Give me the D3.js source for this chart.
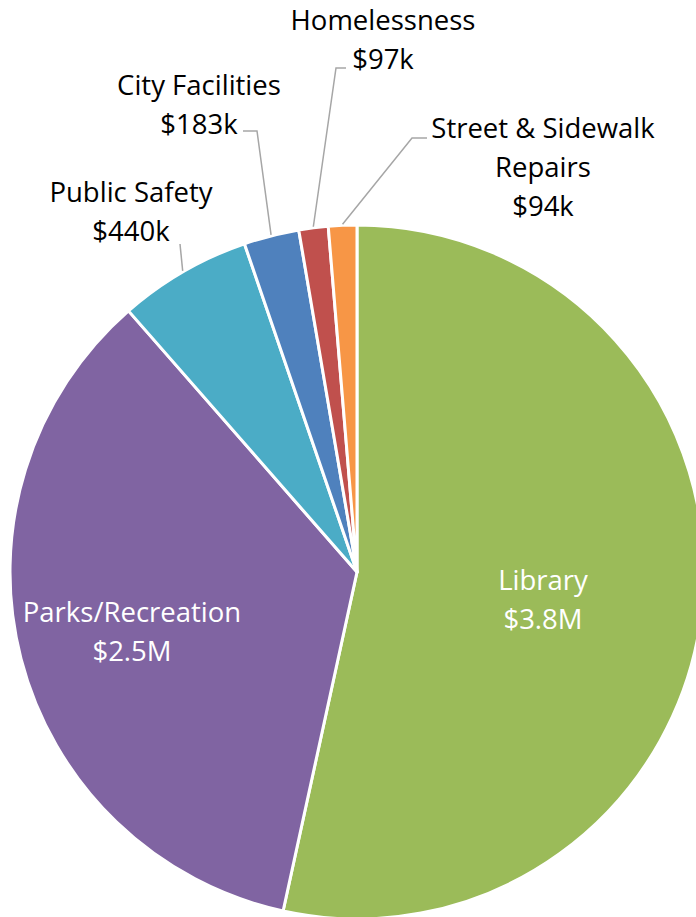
<!DOCTYPE html>
<html><head><meta charset="utf-8">
<script src="https://cdn.jsdelivr.net/npm/d3@7"></script>
<style>html,body{margin:0;padding:0;background:#fff;overflow:hidden}</style>
</head><body><svg id="c" width="696" height="917"></svg>
<script>
const categories = ["Library","Parks/Recreation","Public Safety","City Facilities","Homelessness","Street & Sidewalk Repairs"];
const values = [3800, 2500, 440, 183, 97, 94]; // $k
const valueLabels = ["$3.8M","$2.5M","$440k","$183k","$97k","$94k"];
const colors = ["#9BBB59","#8064A2","#4BACC6","#4F81BD","#C0504D","#F79646"];

// label layout (center x, first baseline y, lines) and leader elbow points
const labelLayout = [
  {x:543, y:590, lines:["Library"], inside:true},
  {x:132, y:622, lines:["Parks/Recreation"], inside:true},
  {x:131, y:202, lines:["Public Safety"], leader:[[180,244]]},
  {x:199, y:95,  lines:["City Facilities"], leader:[[243,131],[257,131]]},
  {x:383, y:30,  lines:["Homelessness"], leader:[[346,68],[336,68]]},
  {x:543, y:138, lines:["Street & Sidewalk","Repairs"], leader:[[427,138],[412,138]]}
];

const svg = d3.select("#c");
const cx = 357, cy = 572, R = 347;
const g = svg.append("g").attr("transform",`translate(${cx},${cy})`);
const pie = d3.pie().sort(null).value(d=>d.v);
const data = values.map((v,i)=>({v,i}));
const arcs = pie(data);
const arc = d3.arc().innerRadius(0).outerRadius(R);

g.selectAll("path.s").data(arcs).join("path")
  .attr("d",arc).attr("fill",d=>colors[d.data.i])
  .attr("stroke","#fff").attr("stroke-width",3).attr("stroke-linejoin","round");

const font = "'Open Sans', Lato, sans-serif";
const fs = 27.5, lh = 39;

labelLayout.forEach((L,i)=>{
  const a = arcs[i];
  if (L.leader) {
    const mid = (a.startAngle+a.endAngle)/2;
    const px = cx + Math.sin(mid)*(R+1), py = cy - Math.cos(mid)*(R+1);
    svg.append("path").attr("d", d3.line()(L.leader.concat([[px,py]])))
      .attr("fill","none").attr("stroke","#A6A6A6").attr("stroke-width",1.5);
  }
  const lines = L.lines.concat([valueLabels[i]]);
  const t = svg.append("text").attr("text-anchor","middle")
    .attr("font-family",font).attr("font-size",fs)
    .style("font-variant-ligatures","none")
    .attr("fill", L.inside ? "#fff" : "#000");
  lines.forEach((s,k)=>t.append("tspan").attr("x",L.x).attr("y",L.y+k*lh).text(s));
});
</script></body></html>
